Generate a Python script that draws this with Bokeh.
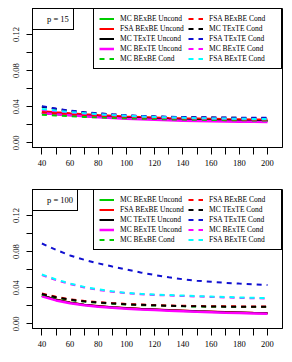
from bokeh.plotting import figure
from bokeh.layouts import column
from bokeh.models import Legend, LegendItem, FixedTicker, NumeralTickFormatter, Range1d
from bokeh.embed import file_html
from bokeh.resources import INLINE

# ---------------- data ----------------
x_vals = [40, 50, 60, 70, 80, 90, 100, 110, 120, 130, 140, 150, 160, 170, 180, 190, 200]
x_major_ticks = [40, 60, 80, 100, 120, 140, 160, 180, 200]
x_minor_ticks = [50, 70, 90, 110, 130, 150, 170, 190]
y_major_ticks = [0.0, 0.04, 0.08, 0.12]
y_minor_ticks = [0.02, 0.06, 0.10]

series_names = ["MC BExBE Uncond", "FSA BExBE Uncond", "MC TExTE Uncond", "MC BExTE Uncond",
                "MC BExBE Cond", "FSA BExBE Cond", "MC TExTE Cond", "FSA TExTE Cond",
                "MC BExTE Cond", "FSA BExTE Cond"]
panel_labels = ["p = 15", "p = 100"]

# p = 15
p15_mc_bebe_u = [0.0330, 0.0318, 0.0307, 0.0297, 0.0289, 0.0281, 0.0275, 0.0269, 0.0264, 0.0260, 0.0256, 0.0253, 0.0250, 0.0248, 0.0246, 0.0244, 0.0243]
p15_fsa_bebe_u = [0.0350, 0.0338, 0.0327, 0.0317, 0.0308, 0.0300, 0.0293, 0.0287, 0.0282, 0.0277, 0.0273, 0.0270, 0.0267, 0.0264, 0.0262, 0.0260, 0.0259]
p15_mc_tete_u = [0.0332, 0.0320, 0.0309, 0.0299, 0.0290, 0.0282, 0.0275, 0.0269, 0.0264, 0.0259, 0.0255, 0.0252, 0.0249, 0.0247, 0.0245, 0.0243, 0.0242]
p15_mc_bete_u = [0.0330, 0.0317, 0.0305, 0.0294, 0.0284, 0.0275, 0.0267, 0.0261, 0.0255, 0.0250, 0.0246, 0.0242, 0.0239, 0.0237, 0.0235, 0.0233, 0.0232]
p15_mc_bebe_c = [0.0312, 0.0303, 0.0295, 0.0288, 0.0282, 0.0277, 0.0272, 0.0268, 0.0264, 0.0261, 0.0258, 0.0256, 0.0254, 0.0252, 0.0250, 0.0249, 0.0248]
p15_fsa_bebe_c = [0.0340, 0.0329, 0.0319, 0.0310, 0.0302, 0.0295, 0.0289, 0.0284, 0.0279, 0.0275, 0.0271, 0.0268, 0.0265, 0.0263, 0.0261, 0.0259, 0.0258]
p15_mc_tete_c = [0.0400, 0.0376, 0.0354, 0.0338, 0.0325, 0.0314, 0.0304, 0.0297, 0.0291, 0.0287, 0.0284, 0.0282, 0.0280, 0.0278, 0.0277, 0.0276, 0.0275]
p15_fsa_tete_c = [0.0405, 0.0380, 0.0357, 0.0340, 0.0327, 0.0316, 0.0306, 0.0299, 0.0293, 0.0289, 0.0286, 0.0284, 0.0282, 0.0280, 0.0279, 0.0278, 0.0277]
p15_mc_bete_c = [0.0365, 0.0350, 0.0336, 0.0324, 0.0314, 0.0305, 0.0297, 0.0290, 0.0284, 0.0279, 0.0275, 0.0271, 0.0268, 0.0266, 0.0264, 0.0262, 0.0261]
p15_fsa_bete_c = [0.0375, 0.0358, 0.0342, 0.0329, 0.0318, 0.0308, 0.0300, 0.0293, 0.0287, 0.0282, 0.0278, 0.0274, 0.0271, 0.0269, 0.0267, 0.0265, 0.0264]

# p = 100
p100_mc_bebe_u = [0.0312, 0.0267, 0.0233, 0.0210, 0.0194, 0.0182, 0.0172, 0.0164, 0.0157, 0.0150, 0.0144, 0.0138, 0.0133, 0.0128, 0.0124, 0.0120, 0.0117]
p100_fsa_bebe_u = [0.0316, 0.0270, 0.0236, 0.0213, 0.0197, 0.0185, 0.0175, 0.0167, 0.0160, 0.0153, 0.0147, 0.0141, 0.0136, 0.0131, 0.0127, 0.0123, 0.0120]
p100_mc_tete_u = [0.0314, 0.0268, 0.0234, 0.0211, 0.0195, 0.0183, 0.0173, 0.0165, 0.0158, 0.0151, 0.0145, 0.0139, 0.0134, 0.0129, 0.0125, 0.0121, 0.0118]
p100_mc_bete_u = [0.0305, 0.0260, 0.0228, 0.0206, 0.0190, 0.0178, 0.0168, 0.0160, 0.0153, 0.0146, 0.0140, 0.0134, 0.0129, 0.0124, 0.0120, 0.0116, 0.0112]
p100_mc_bebe_c = [0.0325, 0.0291, 0.0264, 0.0247, 0.0234, 0.0224, 0.0215, 0.0208, 0.0203, 0.0199, 0.0195, 0.0192, 0.0190, 0.0189, 0.0188, 0.0187, 0.0186]
p100_fsa_bebe_c = [0.0336, 0.0300, 0.0272, 0.0254, 0.0241, 0.0230, 0.0221, 0.0214, 0.0208, 0.0204, 0.0200, 0.0198, 0.0196, 0.0195, 0.0194, 0.0193, 0.0193]
p100_mc_tete_c = [0.0330, 0.0295, 0.0268, 0.0250, 0.0237, 0.0227, 0.0218, 0.0211, 0.0206, 0.0201, 0.0197, 0.0195, 0.0193, 0.0191, 0.0190, 0.0189, 0.0189]
p100_fsa_tete_c = [0.0890, 0.0820, 0.0758, 0.0710, 0.0670, 0.0635, 0.0603, 0.0570, 0.0541, 0.0516, 0.0494, 0.0478, 0.0466, 0.0455, 0.0446, 0.0438, 0.0430]
p100_mc_bete_c = [0.0540, 0.0485, 0.0441, 0.0404, 0.0376, 0.0355, 0.0339, 0.0328, 0.0320, 0.0314, 0.0309, 0.0303, 0.0298, 0.0293, 0.0288, 0.0284, 0.0281]
p100_fsa_bete_c = [0.0547, 0.0492, 0.0447, 0.0410, 0.0382, 0.0360, 0.0344, 0.0333, 0.0325, 0.0319, 0.0314, 0.0308, 0.0303, 0.0298, 0.0293, 0.0289, 0.0286]

panel15 = [p15_mc_bebe_u, p15_fsa_bebe_u, p15_mc_tete_u, p15_mc_bete_u, p15_mc_bebe_c,
           p15_fsa_bebe_c, p15_mc_tete_c, p15_fsa_tete_c, p15_mc_bete_c, p15_fsa_bete_c]
panel100 = [p100_mc_bebe_u, p100_fsa_bebe_u, p100_mc_tete_u, p100_mc_bete_u, p100_mc_bebe_c,
            p100_fsa_bebe_c, p100_mc_tete_c, p100_fsa_tete_c, p100_mc_bete_c, p100_fsa_bete_c]

# ---------------- styles ----------------
colors = ["#00CC00", "#FF0000", "#000000", "#FF00FF", "#00CC00",
          "#FF0000", "#000000", "#1010D0", "#FF00FF", "#00FFFF"]
dashes = ["solid"] * 4 + ["5 5"] * 6
widths = [2, 2, 2, 2.5, 2, 2, 2, 2, 2, 2]
FONT = "Liberation Serif"


def make_panel(values, plabel):
    p = figure(width=292, height=181,
               x_range=Range1d(33.33, 210.64), y_range=Range1d(-0.0051, 0.1488),
               output_backend="svg", toolbar_location=None,
               min_border_left=32, min_border_right=10,
               min_border_top=8, min_border_bottom=34)
    p.grid.visible = False
    p.outline_line_color = "black"
    p.outline_line_alpha = 1
    p.outline_line_width = 1
    p.background_fill_color = "white"
    p.border_fill_color = "white"

    renderers = []
    for vals, c, d, w in zip(values, colors, dashes, widths):
        r = p.line(x_vals, vals, line_color=c, line_dash=d, line_width=w)
        renderers.append(r)

    # axes
    xa = p.xaxis[0]
    xa.ticker = FixedTicker(ticks=x_major_ticks, minor_ticks=x_minor_ticks)
    xa.major_tick_in = 0
    xa.major_tick_out = 7
    xa.minor_tick_in = 0
    xa.minor_tick_out = 7
    xa.minor_tick_line_color = "black"
    xa.major_tick_line_color = "black"
    xa.axis_line_color = "black"
    xa.major_label_text_font = FONT
    xa.major_label_text_font_size = "8.5px"
    xa.major_label_text_color = "black"
    xa.major_label_standoff = 5

    ya = p.yaxis[0]
    ya.ticker = FixedTicker(ticks=y_major_ticks, minor_ticks=y_minor_ticks)
    ya.formatter = NumeralTickFormatter(format="0.00")
    ya.major_label_orientation = "vertical"
    ya.major_tick_in = 0
    ya.major_tick_out = 6
    ya.minor_tick_in = 0
    ya.minor_tick_out = 6
    ya.minor_tick_line_color = "black"
    ya.major_tick_line_color = "black"
    ya.axis_line_color = "black"
    ya.major_label_text_font = FONT
    ya.major_label_text_font_size = "8.5px"
    ya.major_label_text_color = "black"
    ya.major_label_standoff = 7

    # main legend (two columns)
    items = [LegendItem(label=n, renderers=[r]) for n, r in zip(series_names, renderers)]
    leg = Legend(items=items, ncols=2, location="top_right", margin=0,
                 padding=5, spacing=1, glyph_width=15, glyph_height=7,
                 label_height=7, label_width=67, label_standoff=6,
                 label_text_font=FONT, label_text_font_size="7.5px",
                 label_text_color="black",
                 border_line_color="black", border_line_width=1, border_line_alpha=1,
                 background_fill_color="white", background_fill_alpha=1)
    p.add_layout(leg)

    # panel label box
    dummy = p.line([], [], line_alpha=0)
    pleg = Legend(items=[LegendItem(label=plabel, renderers=[dummy])],
                  location="top_left", margin=0, padding=4, spacing=0,
                  glyph_width=6, glyph_height=12, label_height=12, label_standoff=4,
                  label_text_font=FONT, label_text_font_size="8.5px",
                  label_text_color="black",
                  border_line_color="black", border_line_width=1, border_line_alpha=1,
                  background_fill_color="white", background_fill_alpha=1)
    p.add_layout(pleg)
    return p


top = make_panel(panel15, panel_labels[0])
bottom = make_panel(panel100, panel_labels[1])

layout = column(top, bottom, spacing=0)
open("out.html", "w").write(file_html(layout, INLINE))
